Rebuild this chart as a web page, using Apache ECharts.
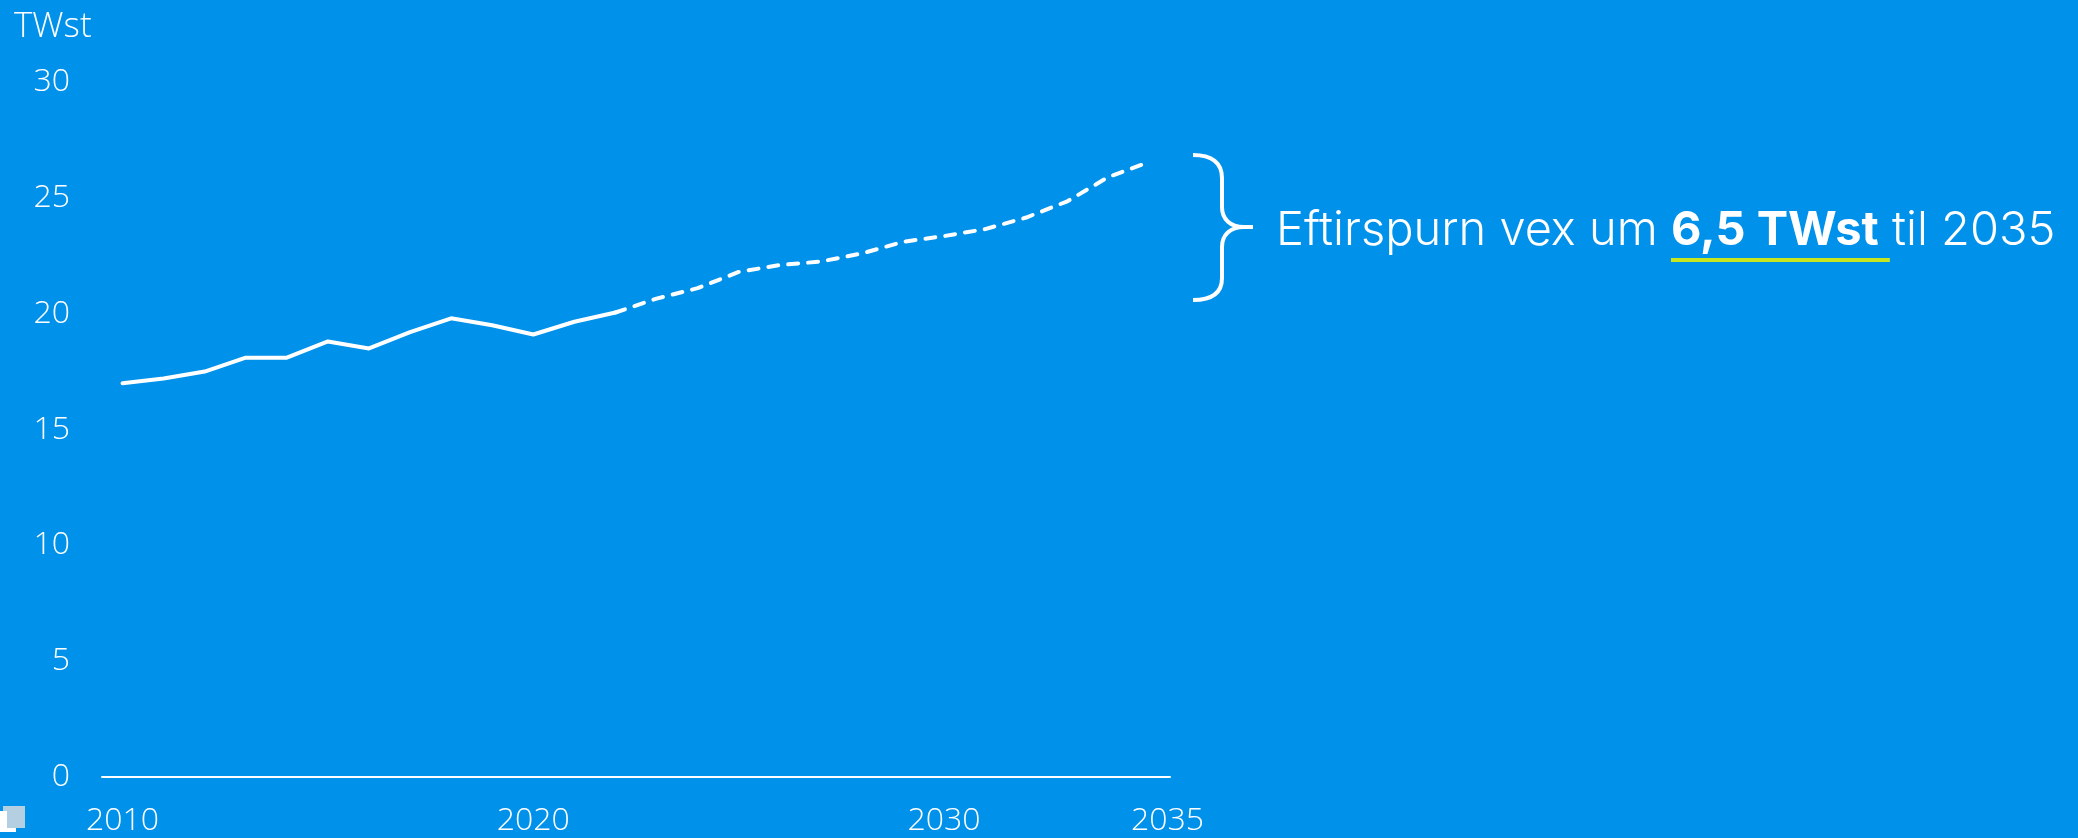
<!DOCTYPE html>
<html>
<head>
<meta charset="utf-8">
<script src="https://cdn.jsdelivr.net/npm/echarts@6/dist/echarts.min.js"></script>
<style>
html,body{margin:0;padding:0;background:#0091ea;}
#chart{width:2078px;height:838px;}
</style>
</head>
<body>
<div id="chart"></div>
<script>
// ---- data ----
const histYears = [2010, 2011, 2012, 2013, 2014, 2015, 2016, 2017, 2018, 2019, 2020, 2021, 2022];
const histValues = [17.0, 17.2, 17.5, 18.1, 18.1, 18.8, 18.5, 19.2, 19.8, 19.5, 19.1, 19.65, 20.05];
const forecastYears = [2022, 2023, 2024, 2025, 2026, 2027, 2028, 2029, 2030, 2031, 2032, 2033, 2034, 2035];
const forecastValues = [20.05, 20.65, 21.1, 21.8, 22.1, 22.25, 22.6, 23.1, 23.35, 23.65, 24.15, 24.85, 25.9, 26.55];
const xTickLabels = [2010, 2020, 2030, 2035];
const yTicks = [0, 5, 10, 15, 20, 25, 30];
const unitLabel = 'TWst';
const noteStart = 'Eftirspurn vex um ';
const noteBold = '6,5 TWst';
const noteEnd = ' til 2035';

const FONT = 'Inter';
const TICK_FONT = '"Open Sans"';
const WHITE = '#ffffff';
const LIME = '#c8e61e';

function measure(text, weight, size) {
  const c = document.createElement('canvas').getContext('2d');
  c.font = weight + ' ' + size + 'px ' + FONT;
  return c.measureText(text).width;
}

const noteX = 1276, noteY = 231, noteSize = 47;
const underX = noteX + measure(noteStart, 300, noteSize);
const underW = measure(noteBold + ' ', 'bold', noteSize);

const braceStyle = {stroke: WHITE, lineWidth: 4, fill: null};
function bez(x1, y1, cx1, cy1, cx2, cy2, x2, y2) {
  return {type: 'bezierCurve', silent: true, shape: {x1, y1, cpx1: cx1, cpy1: cy1, cpx2: cx2, cpy2: cy2, x2, y2}, style: braceStyle};
}
function seg(x1, y1, x2, y2) {
  return {type: 'line', silent: true, shape: {x1, y1, x2, y2}, style: braceStyle};
}

const chart = echarts.init(document.getElementById('chart'), null, {renderer: 'canvas'});
chart.setOption({
  animation: false,
  backgroundColor: '#0091ea',
  title: {
    text: unitLabel, left: 9, top: 5,
    textStyle: {color: WHITE, fontFamily: TICK_FONT, fontSize: 35, fontWeight: 300}
  },
  grid: {left: 102, right: 908, top: 82, bottom: 61, containLabel: false},
  xAxis: {
    type: 'value', min: 2009.5, max: 2035.5,
    axisLine: {show: true, lineStyle: {color: WHITE, width: 2}},
    axisTick: {show: false},
    splitLine: {show: false},
    axisLabel: {
      customValues: xTickLabels,
      margin: 28,
      color: WHITE, fontFamily: TICK_FONT, fontSize: 32, fontWeight: 300,
      formatter: v => v === 2035 ? '{o|' + v + '}' : String(v),
      rich: {o: {padding: [0, 0, 0, 36], color: WHITE, fontFamily: TICK_FONT, fontSize: 32, fontWeight: 300}}
    }
  },
  yAxis: {
    type: 'value', min: yTicks[0], max: yTicks[yTicks.length - 1], interval: 5,
    axisLine: {show: false}, axisTick: {show: false}, splitLine: {show: false},
    axisLabel: {margin: 32, padding: [6, 0, 0, 0], color: WHITE, fontFamily: TICK_FONT, fontSize: 32, fontWeight: 300}
  },
  series: [
    {
      type: 'line', showSymbol: false, symbol: 'none',
      data: histYears.map((y, i) => [y, histValues[i]]),
      lineStyle: {color: WHITE, width: 4, cap: 'round', join: 'round'}
    },
    {
      type: 'line', showSymbol: false, symbol: 'none',
      data: forecastYears.map((y, i) => [y, forecastValues[i]]),
      lineStyle: {color: WHITE, width: 4, type: [10, 10], cap: 'round', join: 'round'}
    }
  ],
  graphic: [
    bez(1193, 155, 1212, 155, 1222, 163, 1222, 178),
    seg(1222, 178, 1222, 207),
    bez(1222, 207, 1222, 219, 1230, 227, 1244, 227),
    seg(1244, 227, 1253, 227),
    bez(1244, 227, 1230, 227, 1222, 235, 1222, 247),
    seg(1222, 247, 1222, 278),
    bez(1222, 278, 1222, 293, 1212, 300, 1193, 300),
    {
      type: 'text', x: noteX, y: noteY, silent: true,
      style: {
        text: noteStart + '{b|' + noteBold + '}' + noteEnd,
        fill: WHITE, font: '300 ' + noteSize + 'px ' + FONT,
        verticalAlign: 'middle', align: 'left',
        rich: {b: {fontWeight: 'bold', fontSize: noteSize, fontFamily: FONT, fill: WHITE}}
      }
    },
    {
      type: 'rect', silent: true,
      shape: {x: underX, y: 258, width: underW, height: 4},
      style: {fill: LIME}
    },
    {type: 'rect', silent: true, shape: {x: 3, y: 806, width: 22, height: 22}, style: {fill: '#b4cfe2'}},
    {type: 'rect', silent: true, shape: {x: 0, y: 811, width: 7, height: 21}, style: {fill: WHITE}},
    {type: 'rect', silent: true, shape: {x: 0, y: 828, width: 16, height: 4}, style: {fill: WHITE}}
  ]
});
</script>
</body>
</html>
